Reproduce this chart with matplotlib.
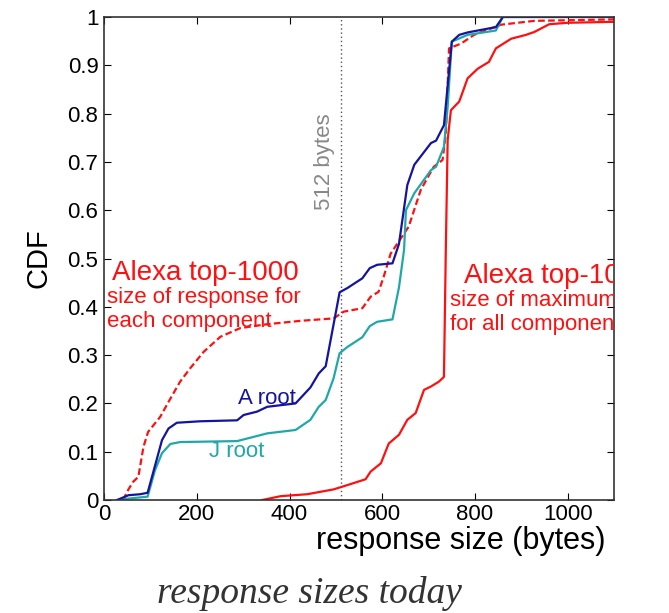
import matplotlib
matplotlib.use("Agg")
import matplotlib.pyplot as plt

plt.rcParams["font.family"] = ["Liberation Sans", "DejaVu Sans"]

# A root
a_x = [28, 53, 78, 94, 125, 139, 157, 207, 287, 301, 330, 352, 413, 445, 463, 478,
       508, 525, 557, 573, 589, 622, 636, 654, 669, 705, 716, 733, 750, 766, 784, 845, 860, 1100]
a_y = [0, 0.01, 0.012, 0.015, 0.124, 0.148, 0.16, 0.163, 0.165, 0.176, 0.183, 0.193, 0.2,
       0.233, 0.262, 0.277, 0.43, 0.439, 0.459, 0.48, 0.487, 0.49, 0.53, 0.652, 0.694,
       0.739, 0.744, 0.776, 0.949, 0.963, 0.968, 0.979, 1.0, 1.0]

# J root
j_x = [28, 53, 94, 110, 125, 143, 164, 287, 352, 413, 445, 463, 478, 495, 508, 525, 557,
       573, 589, 622, 636, 647, 651, 669, 705, 716, 733, 741, 750, 784, 845, 860, 1100]
j_y = [0, 0.003, 0.007, 0.062, 0.097, 0.116, 0.12, 0.122, 0.138, 0.145, 0.166, 0.193,
       0.207, 0.252, 0.304, 0.317, 0.337, 0.36, 0.369, 0.374, 0.44, 0.518, 0.6, 0.635,
       0.683, 0.69, 0.731, 0.814, 0.949, 0.963, 0.972, 1.0, 1.0]

# Alexa top-1000, each component (dashed)
comp_x = [41, 52, 63, 74, 85, 95, 121, 139, 164, 186, 215, 251, 294, 352, 424, 495, 517,
          557, 575, 592, 603, 618, 657, 683, 711, 730, 737, 744, 770, 798, 856, 928, 1100]
comp_y = [0, 0.021, 0.038, 0.048, 0.11, 0.141, 0.172, 0.203, 0.245, 0.273, 0.307, 0.338,
          0.356, 0.364, 0.371, 0.376, 0.39, 0.397, 0.421, 0.431, 0.462, 0.51, 0.566, 0.642,
          0.69, 0.704, 0.759, 0.935, 0.945, 0.963, 0.984, 0.992, 0.995]

# Alexa top-1000, max over all components (solid)
max_x = [341, 381, 438, 495, 525, 564, 575, 597, 614, 636, 654, 672, 690, 705, 722, 733,
         737, 741, 748, 766, 784, 806, 830, 845, 878, 910, 928, 960, 1000, 1100]
max_y = [0, 0.008, 0.012, 0.022, 0.031, 0.043, 0.059, 0.076, 0.117, 0.135, 0.166, 0.18,
         0.228, 0.235, 0.245, 0.255, 0.517, 0.745, 0.807, 0.825, 0.873, 0.893, 0.907,
         0.935, 0.955, 0.963, 0.969, 0.985, 0.988, 0.99]

x_ticks = [0, 200, 400, 600, 800, 1000]
y_ticks = [0, 0.1, 0.2, 0.3, 0.4, 0.5, 0.6, 0.7, 0.8, 0.9, 1]
y_ticklabels = ["0", "0.1", "0.2", "0.3", "0.4", "0.5", "0.6", "0.7", "0.8", "0.9", "1"]

fig = plt.figure(figsize=(6.69, 6.13), dpi=100)
ax = fig.add_axes([0.1555, 0.1843, 0.7625, 0.788])

red = "#ff1010"
ax.axvline(512, color="#555555", linestyle=(0, (1, 2)), linewidth=1.0)
ax.plot(max_x, max_y, color=red, linewidth=1.6)
ax.plot(comp_x, comp_y, color=red, linewidth=1.6, linestyle=(0, (3, 1.5)))
ax.plot(j_x, j_y, color="#20a8a8", linewidth=1.6)
ax.plot(a_x, a_y, color="#1414a0", linewidth=1.6)

ax.set_xlim(0, 1100)
ax.set_ylim(0, 1)
ax.set_xticks(x_ticks)
ax.set_yticks(y_ticks)
ax.set_yticklabels(y_ticklabels)
ax.tick_params(direction="in", length=5, labelsize=16, top=True, right=True, pad=4)
ax.tick_params(axis="x", pad=3)
for s in ax.spines.values():
    s.set_linewidth(1.2)
    s.set_color("#333333")

ax.set_ylabel("CDF", fontsize=21, labelpad=11)
ax.set_xlabel("response size (bytes)", fontsize=22)
ax.xaxis.set_label_coords(0.984, -0.053)
ax.xaxis.label.set_horizontalalignment("right")
ax.xaxis.label.set_verticalalignment("top")

# annotations
ax.text(498, 0.7, "512 bytes", rotation=90, color="#888888", fontsize=16,
        ha="right", va="center")
ax.text(17, 0.455, "Alexa top-1000", color=red, fontsize=20, ha="left", va="baseline")
ax.text(6, 0.42, "size of response for", color=red, fontsize=16, ha="left", va="center")
ax.text(6, 0.37, "each component", color=red, fontsize=16, ha="left", va="center")
ax.text(776, 0.45, "Alexa top-1000", color=red, fontsize=20, ha="left", va="baseline",
        clip_on=True)
ax.text(746, 0.413, "size of maximum", color=red, fontsize=16, ha="left", va="center",
        clip_on=True)
ax.text(746, 0.363, "for all components", color=red, fontsize=16, ha="left", va="center",
        clip_on=True)
ax.text(288, 0.21, "A root", color="#1414a0", fontsize=16, ha="left", va="center")
ax.text(227, 0.10, "J root", color="#20a8a8", fontsize=16, ha="left", va="center")

fig.text(0.462, 0.032, "response sizes today", fontsize=27, style="italic",
         family="Liberation Serif", color="#333333", ha="center", va="center")

fig.savefig("out.png", dpi=100)
